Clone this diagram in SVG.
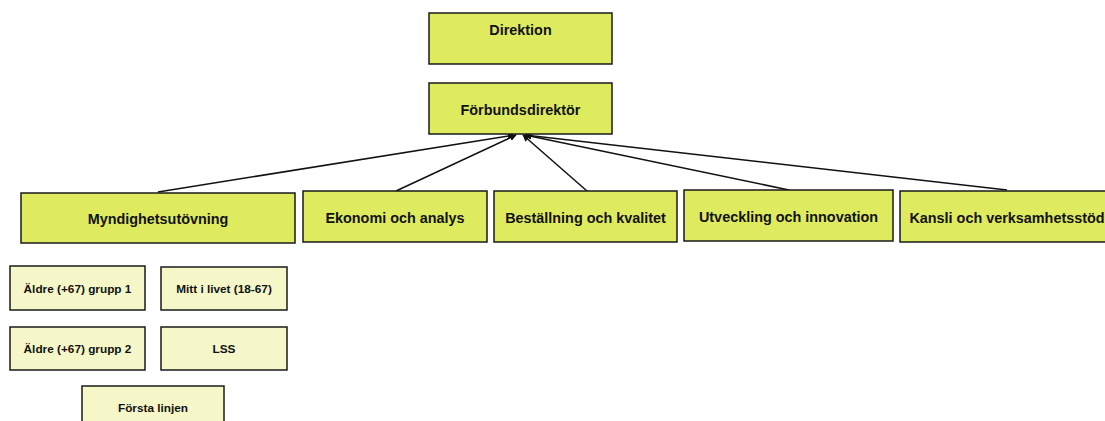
<svg xmlns="http://www.w3.org/2000/svg" width="1105" height="421" viewBox="0 0 1105 421">
<defs>
<style>
.main{fill:#DFEB5F;stroke:#1a1a1a;stroke-width:1.5}
.sub{fill:#F5F7C8;stroke:#1a1a1a;stroke-width:1.5}
.t{font-family:"Liberation Sans",Arial,sans-serif;font-weight:bold;fill:#111;text-anchor:middle}
.tm{font-size:14.4px}
.ts{font-size:11.8px}
.c{stroke:#111;stroke-width:1.5;fill:none;marker-end:url(#arr)}
</style>
<marker id="arr" viewBox="0 0 10 10" refX="9" refY="5" markerWidth="7" markerHeight="7" orient="auto" markerUnits="userSpaceOnUse">
<path d="M0,0 L10,5 L0,10 z" fill="#111"/>
</marker>
</defs>
<rect width="1105" height="421" fill="#fff"/>
<g id="connectors">
<line class="c" x1="158" y1="192" x2="514" y2="135"/>
<line class="c" x1="396" y1="191" x2="516" y2="135"/>
<line class="c" x1="587" y1="191" x2="523" y2="135"/>
<line class="c" x1="789" y1="190" x2="525" y2="135"/>
<line class="c" x1="1007" y1="190" x2="525" y2="135"/>
</g>
<g id="direktion"><rect class="main" x="429" y="13" width="183" height="51"/><text class="t tm" x="520.5" y="35">Direktion</text></g>
<g id="forbundsdirektor"><rect class="main" x="429" y="83" width="183" height="51"/><text class="t tm" x="520.5" y="115">Förbundsdirektör</text></g>
<g id="myndighetsutovning"><rect class="main" x="21" y="193" width="274" height="50"/><text class="t tm" x="158" y="224">Myndighetsutövning</text></g>
<g id="ekonomi"><rect class="main" x="303" y="191" width="184" height="51"/><text class="t tm" x="395" y="223">Ekonomi och analys</text></g>
<g id="bestallning"><rect class="main" x="494" y="191" width="183" height="51"/><text class="t tm" x="585.5" y="223">Beställning och kvalitet</text></g>
<g id="utveckling"><rect class="main" x="684" y="190" width="209" height="51"/><text class="t tm" x="788.5" y="222">Utveckling och innovation</text></g>
<g id="kansli"><rect class="main" x="900" y="191" width="215" height="51"/><text class="t tm" x="1007" y="223">Kansli och verksamhetsstöd</text></g>
<g id="aldre1"><rect class="sub" x="10" y="266" width="135" height="44"/><text class="t ts" x="77.5" y="293">Äldre (+67) grupp 1</text></g>
<g id="mitt"><rect class="sub" x="161" y="267" width="126" height="43"/><text class="t ts" x="224" y="293">Mitt i livet (18-67)</text></g>
<g id="aldre2"><rect class="sub" x="10" y="327" width="135" height="43"/><text class="t ts" x="77.5" y="353">Äldre (+67) grupp 2</text></g>
<g id="lss"><rect class="sub" x="161" y="327" width="126" height="43"/><text class="t ts" x="224" y="353">LSS</text></g>
<g id="forsta"><rect class="sub" x="82" y="386" width="142" height="45"/><text class="t ts" x="153" y="412">Första linjen</text></g>
</svg>
